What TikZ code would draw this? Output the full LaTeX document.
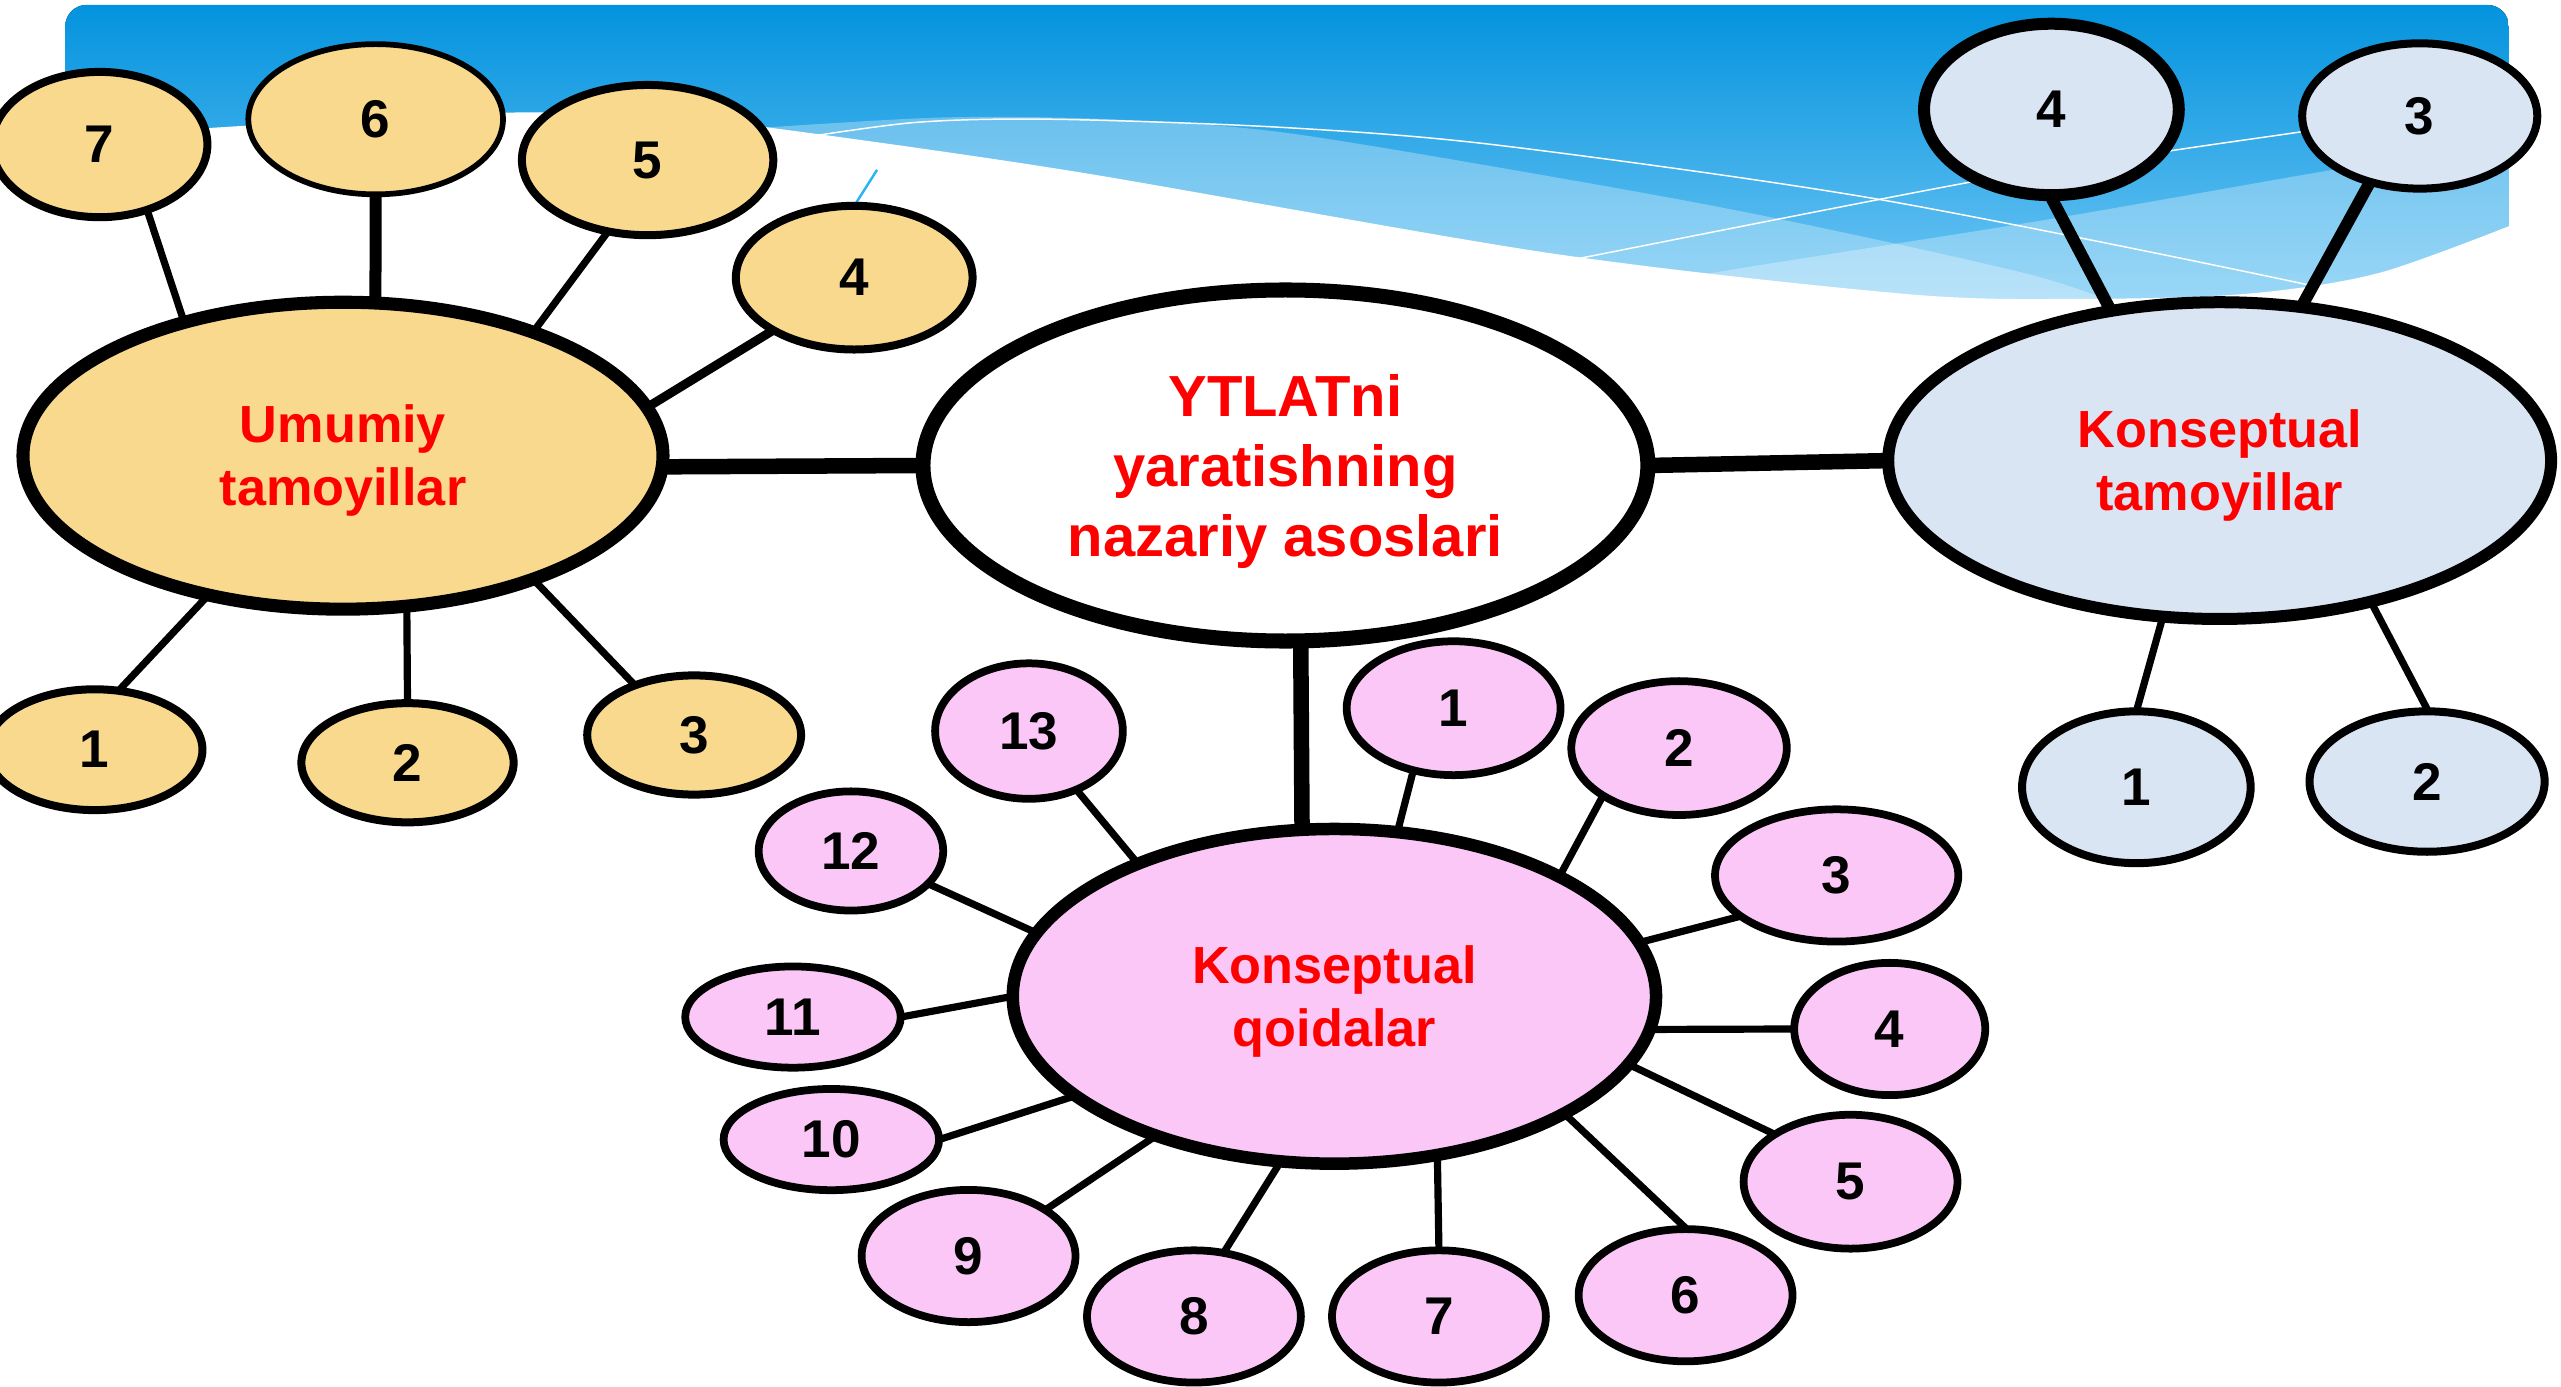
\documentclass[tikz,border=0pt]{standalone}
\usepackage{fontspec}
\setmainfont{Liberation Sans}
\usetikzlibrary{shapes.geometric}
\definecolor{ocol}{RGB}{248,217,142}
\definecolor{bcol}{RGB}{218,229,244}
\definecolor{pcol}{RGB}{251,199,246}
\definecolor{tred}{RGB}{255,0,0}
\definecolor{btop}{RGB}{3,147,222}
\definecolor{bbot}{RGB}{115,200,245}
\newcommand\numfont{\bfseries\fontsize{18.5}{22}\selectfont}
\newcommand\lblfont{\bfseries\fontsize{18.2}{22}\selectfont}
\newcommand\cenfont{\bfseries\fontsize{20.2}{24.4}\selectfont}
\newcommand\lblstrut{\rule{0pt}{16.8pt}}
\newcommand\censtrut{\rule{0pt}{18.7pt}}
\begin{document}
\begin{tikzpicture}[x=0.02cm,y=-0.02cm,
  bub/.style={ellipse, draw=black, inner sep=0pt, outer sep=0pt, font=\numfont, text=black},
  sz/.style 2 args={minimum width=#1*0.04cm, minimum height=#2*0.04cm},
  onode/.style={bub, fill=ocol, line width=0.098cm},
  bnode/.style={bub, fill=bcol, line width=0.098cm},
  pnode/.style={bub, fill=pcol, line width=0.095cm},
  bigl/.style={font=\lblfont, text=tred, align=center},
  lnA/.style={line width=0.19cm},
  lnB/.style={line width=0.147cm},
  lnC/.style={line width=0.11cm},
  lnD/.style={line width=0.088cm},
  wline/.style={white, line width=0.018cm},
  band/.style={white, opacity=0.3}]
\useasboundingbox (0,0) rectangle (1568,849);
% ---- banner ----
\begin{scope}
\clip[rounded corners=0.26cm] (40,3) rectangle (1536,320);
\fill[top color=btop, bottom color=bbot] (40,3) rectangle (1536,190);
\fill[band] plot[smooth] coordinates {(440,80) (574,72) (679,73) (785,81) (949,108) (1084,133) (1250,170) (1330,200)} -- (1330,260) -- (440,260) -- cycle;
\fill[band] plot[smooth] coordinates {(980,182) (1043,168) (1250,135) (1428,104) (1540,86)} -- (1540,260) -- (980,260) -- cycle;
\draw[wline] plot[smooth] coordinates {(480,86) (560,75) (644,73) (785,78) (918,89) (1150,122) (1416,175) (1440,185)};
\draw[wline] plot[smooth] coordinates {(930,166) (968,158) (1209,111) (1331,92) (1407,81) (1480,70)};
\end{scope}
\fill[white] plot[smooth] coordinates {(20,86) (150,77) (309,69) (400,71) (470,78) (658,105) (949,155) (1167,180) (1271,183) (1374,180) (1457,167) (1550,133)} -- (1550,330) -- (20,330) -- cycle;
\draw[color={rgb,255:red,40;green,180;blue,245}, line width=0.03cm] (537,104) -- (523,126);
% ---- central ----
\node[bub, fill=white, line width=0.184cm, sz={222}{107.5}, font=\cenfont, text=tred, align=center] (ce) at (787,285) {\censtrut YTLATni\\yaratishning\\nazariy asoslari};
% ---- Umumiy ----
\node[onode, line width=0.16cm, sz={196}{94}, bigl] (um) at (210,279) {\lblstrut Umumiy\\tamoyillar};
\node[onode, sz={66}{44.5}] (o7) at (61,88.5) {7};
\node[onode, line width=0.07cm, sz={78}{46}] (o6) at (230,73) {6};
\node[onode, sz={77}{46}] (o5) at (396.5,98) {5};
\node[onode, sz={72.5}{44}] (o4) at (523,170) {4};
\node[onode, sz={66}{37}] (o1) at (58,459) {1};
\node[onode, sz={65}{36.5}] (o2) at (249.5,467) {2};
\node[onode, sz={65.5}{36.5}] (o3) at (425,450) {3};
% ---- Konseptual tamoyillar ----
\node[bnode, line width=0.147cm, sz={203}{97}, bigl] (kt) at (1359,282) {\lblstrut Konseptual\\tamoyillar};
\node[bnode, line width=0.147cm, sz={78}{52.5}] (b4) at (1256,67) {4};
\node[bnode, sz={72}{44.5}] (b3) at (1481.5,71) {3};
\node[bnode, sz={70}{46.5}] (b1) at (1308,482) {1};
\node[bnode, sz={72}{43}] (b2) at (1486,478.5) {2};
% ---- Konseptual qoidalar ----
\node[pnode, line width=0.153cm, sz={197}{102.5}, bigl] (kq) at (817,610) {\lblstrut Konseptual\\qoidalar};
\node[pnode, sz={65.5}{41}] (p1) at (890,433.6) {1};
\node[pnode, sz={66}{41}] (p2) at (1028,458) {2};
\node[pnode, sz={74.5}{40.5}] (p3) at (1124.5,536) {3};
\node[pnode, sz={58.5}{40.5}] (p4) at (1157,630) {4};
\node[pnode, sz={65.5}{41}] (p5) at (1133,723.5) {5};
\node[pnode, sz={65.5}{40.5}] (p6) at (1032,793) {6};
\node[pnode, sz={65.5}{40.5}] (p7) at (881,806) {7};
\node[pnode, sz={65.5}{40.5}] (p8) at (731,806) {8};
\node[pnode, sz={65.5}{40.5}] (p9) at (593,769) {9};
\node[pnode, sz={66}{31}] (p10) at (509,697.7) {10};
\node[pnode, sz={66}{31}] (p11) at (485.5,622.7) {11};
\node[pnode, sz={56.5}{36.5}] (p12) at (521,521) {12};
\node[pnode, sz={57.5}{41.5}] (p13) at (630,447.6) {13};
% ---- main links ----
\draw[lnA] (um.-2) -- (ce.west);
\draw[lnA] (ce.east) -- (kt.west);
\draw[lnA] (ce.-85) -- (kq.101);
% ---- Umumiy links ----
\draw[lnD] (um.140) -- (o7.-54);
\draw[lnB] (um.78) -- (o6.south);
\draw[lnD] (um.33) -- (o5.-119);
\draw[lnC] (um.9) -- (o4.-147);
\draw[lnD] (um.-134) -- (o1.68);
\draw[lnD] (um.-67) -- (o2.north);
\draw[lnD] (um.-33) -- (o3.140);
% ---- Konseptual tamoyillar links ----
\draw[lnB] (kt.126) -- (b4.-91);
\draw[lnB] (kt.62) -- (b3.-127);
\draw[lnD] (kt.-110) -- (b1.north);
\draw[lnD] (kt.-43) -- (b2.89);
% ---- Konseptual qoidalar links ----
\draw[lnD] (kq.69) -- (p1.-123);
\draw[lnD] (kq.28) -- (p2.-148);
\draw[lnD] (kq.10) -- (p3.-157);
\draw[lnD] (kq.-6) -- (p4.west);
\draw[lnD] (kq.-13) -- (p5.148);
\draw[lnD] (kq.-27) -- (p6.89);
\draw[lnD] (kq.-57) -- (p7.north);
\draw[lnD] (kq.-108) -- (p8.65);
\draw[lnD] (kq.-142) -- (p9.31);
\draw[lnD] (kq.-159) -- (p10.east);
\draw[lnD] (kq.west) -- (p11.east);
\draw[lnD] (kq.168) -- (p12.-23);
\draw[lnD] (kq.146) -- (p13.-51);
\end{tikzpicture}
\end{document}
